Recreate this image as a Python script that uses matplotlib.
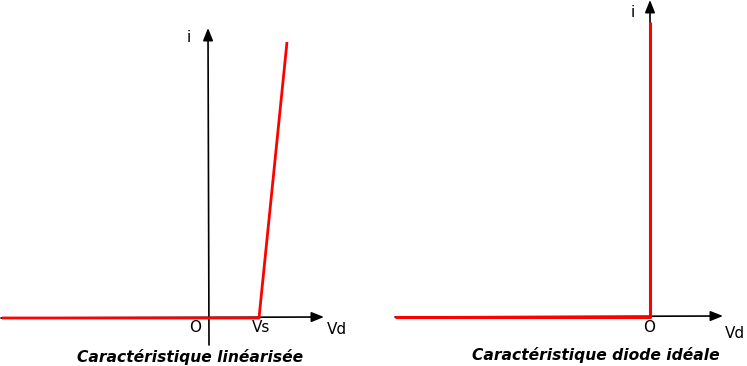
import matplotlib
matplotlib.use("Agg")
import matplotlib.pyplot as plt

W, H = 747, 366

# left panel : linearised characteristic (units: Vs = 1)
lin_vd = [-4.14, 1.0, 1.56]
lin_i = [0.0, 0.0, 5.52]
lin_labels = {"i": "i", "O": "O", "Vs": "Vs", "Vd": "Vd"}
lin_title = "Caractéristique linéarisée"

# right panel : ideal diode
ideal_vd = [-5.1, 0.0, 0.0]
ideal_i = [0.0, 0.0, 5.9]
ideal_title = "Caractéristique diode idéale"

fig = plt.figure(figsize=(W / 100, H / 100), dpi=100)
fig.patch.set_facecolor("white")

SCALE = 50.0  # pixels per unit


def make_ax(px0, px1, ox, oy):
    ax = fig.add_axes([px0 / W, 0, (px1 - px0) / W, 1])
    ax.set_xlim((px0 - ox) / SCALE, (px1 - ox) / SCALE)
    ax.set_ylim((oy - H) / SCALE, oy / SCALE)
    ax.axis("off")
    return ax


def arrow(ax, x0, y0, x1, y1):
    ax.annotate("", xy=(x1, y1), xytext=(x0, y0),
                arrowprops=dict(arrowstyle="-|>,head_length=0.75,head_width=0.3",
                                color="black", lw=1.2, shrinkA=0, shrinkB=0))


txt = dict(fontsize=11, color="black", family="DejaVu Sans")
ttl = dict(fontsize=11.2, fontweight="bold", fontstyle="italic", color="black",
           family="DejaVu Sans", ha="center", va="center")

# ---- left ----
ax1 = make_ax(0, 370, 209, 318)
arrow(ax1, -4.16, 0.0, 2.3, 0.02)
arrow(ax1, 0.0, -0.54, -0.02, 5.8)
ax1.plot(lin_vd, lin_i, color="#ff0000", lw=2.0, solid_capstyle="butt", zorder=3)
ax1.text(-0.4, 5.62, lin_labels["i"], ha="center", va="center", **txt)
ax1.text(-0.28, -0.18, lin_labels["O"], ha="center", va="center", **txt)
ax1.text(1.04, -0.2, lin_labels["Vs"], ha="center", va="center", **txt)
ax1.text(2.56, -0.22, lin_labels["Vd"], ha="center", va="center", **txt)
ax1.text(-0.38, -0.78, lin_title, **ttl)

# ---- right ----
ax2 = make_ax(380, 747, 650, 317)
arrow(ax2, -5.1, 0.0, 1.46, 0.02)
arrow(ax2, 0.0, 0.0, 0.0, 6.34)
ax2.plot(ideal_vd, ideal_i, color="#ff0000", lw=2.2, solid_capstyle="butt", zorder=3)
ax2.text(-0.34, 6.1, "i", ha="center", va="center", **txt)
ax2.text(-0.02, -0.2, "O", ha="center", va="center", **txt)
ax2.text(1.7, -0.34, "Vd", ha="center", va="center", **txt)
ax2.text(-1.08, -0.76, ideal_title, **ttl)

fig.savefig("out.png", dpi=100, facecolor="white")
